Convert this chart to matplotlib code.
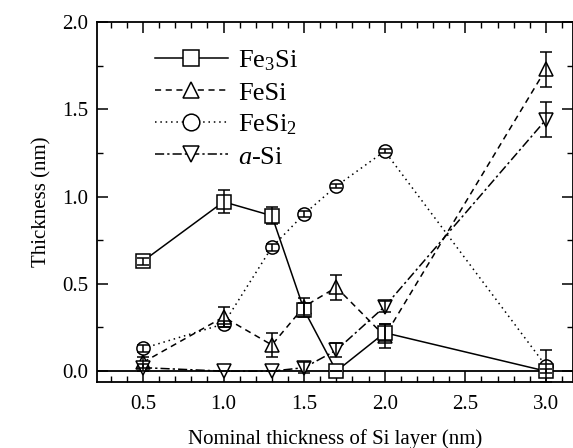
import numpy as np
import matplotlib
matplotlib.use("Agg")
from matplotlib import pyplot as plt
from matplotlib.ticker import MultipleLocator
from matplotlib.lines import Line2D

# nominal Si thickness (nm)
x = [0.5, 1.0, 1.3, 1.5, 1.7, 2.0, 3.0]

fe3si = [0.63, 0.97, 0.89, 0.35, 0.0, 0.22, 0.0]
fe3si_err = [0.02, 0.065, 0.05, 0.04, 0.0, 0.05, 0.01]

fesi = [0.05, 0.31, 0.15, 0.37, 0.48, 0.20, 1.73]
fesi_err = [0.03, 0.06, 0.07, 0.05, 0.07, 0.07, 0.10]

fesi2 = [0.13, 0.27, 0.71, 0.90, 1.06, 1.26, 0.03]
fesi2_err = [0.02, 0.02, 0.02, 0.02, 0.01, 0.01, 0.09]

asi = [0.02, 0.0, 0.0, 0.02, 0.12, 0.37, 1.44]
asi_err = [0.02, 0.0, 0.0, 0.03, 0.04, 0.03, 0.10]

labels = ["Fe$_3$Si", "FeSi", "FeSi$_2$", "$\\mathit{a}$-Si"]

plt.rcParams["font.family"] = ["Liberation Serif", "DejaVu Serif"]
plt.rcParams["mathtext.fontset"] = "custom"
plt.rcParams["mathtext.rm"] = "Liberation Serif"
plt.rcParams["mathtext.it"] = "Liberation Serif:italic"

fig = plt.figure(figsize=(5.73, 4.48), dpi=100)
ax = fig.add_axes([0.169, 0.147, 0.831, 0.804])

ax.axhline(0, color="black", lw=1.3, zorder=1)

styles = {
    labels[0]: ("s", "-"),
    labels[1]: ("^", (0, (4, 3))),
    labels[2]: ("o", (0, (1, 2.5))),
    labels[3]: ("v", (0, (6, 2, 1.5, 2))),
}
data = {
    labels[0]: (fe3si, fe3si_err),
    labels[1]: (fesi, fesi_err),
    labels[2]: (fesi2, fesi2_err),
    labels[3]: (asi, asi_err),
}
for lab in [labels[2], labels[1], labels[3], labels[0]]:
    y, err = data[lab]
    m, ls = styles[lab]
    ax.plot(x, y, marker=m, ms=9.5, mfc="white", mec="black", mew=1.1,
            color="black", ls=ls, lw=1.1, zorder=2)
    ax.errorbar(x, y, yerr=err, fmt="none", ecolor="black", capsize=4,
                elinewidth=1.1, capthick=1.1, zorder=3)

ax.set_xlim(0.214, 3.168)
ax.set_ylim(-0.063, 2.0)
ax.xaxis.set_major_locator(MultipleLocator(0.5))
ax.xaxis.set_minor_locator(MultipleLocator(0.1))
ax.yaxis.set_major_locator(MultipleLocator(0.5))
ax.yaxis.set_minor_locator(MultipleLocator(0.25))
ax.tick_params(which="both", direction="in", top=True, right=True, labelsize=15)
ax.tick_params(which="major", length=8, width=1.1)
ax.tick_params(which="minor", length=4, width=1.0)
ax.tick_params(axis="x", pad=9)
ax.tick_params(axis="y", pad=6)
ax.yaxis.set_major_formatter(plt.FormatStrFormatter("%.1f"))
ax.xaxis.set_major_formatter(plt.FormatStrFormatter("%.1f"))
for s in ax.spines.values():
    s.set_linewidth(1.3)

ax.set_xlabel("Nominal thickness of Si layer (nm)", fontsize=15, labelpad=11)
ax.set_ylabel("Thickness (nm)", fontsize=15, labelpad=8)

handles = [Line2D([], [], marker=styles[l][0], ms=12, mfc="white", mec="black",
                  mew=1.1, color="black", ls=styles[l][1], lw=1.1) for l in labels]
ax.legend(handles, labels, loc="upper left", bbox_to_anchor=(0.1, 0.955),
          frameon=False, fontsize=19, handlelength=2.75, handletextpad=0.4,
          labelspacing=0.3, borderaxespad=0)

fig.savefig("out.png", dpi=100)
